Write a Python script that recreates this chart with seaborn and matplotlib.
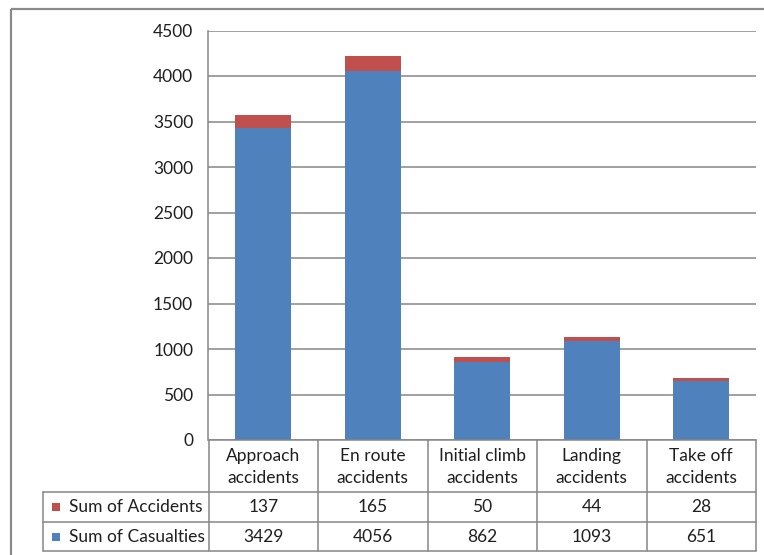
import matplotlib
matplotlib.use("Agg")
import matplotlib.pyplot as plt
import matplotlib.transforms as mtransforms
from matplotlib.lines import Line2D
from matplotlib.patches import Rectangle
import seaborn as sns
import pandas as pd

categories = ["Approach\naccidents", "En route\naccidents", "Initial climb\naccidents",
              "Landing\naccidents", "Take off\naccidents"]
accidents = [137, 165, 50, 44, 28]
casualties = [3429, 4056, 862, 1093, 651]
series_names = ["Sum of Accidents", "Sum of Casualties"]
y_ticks = [0, 500, 1000, 1500, 2000, 2500, 3000, 3500, 4000, 4500]

BLUE = "#4F81BD"
RED = "#C0504D"
GRID = "#868686"
TEXT = "#1f1f1f"

sns.set_theme(style="white")
plt.rcParams["font.family"] = ["Lato", "DejaVu Sans"]
FS = 12.5

W, H = 764, 555
fig = plt.figure(figsize=(W / 100, H / 100), dpi=100)

# pixel-space transform (origin top-left)
pix = mtransforms.Affine2D().scale(1 / W, -1 / H).translate(0, 1) + fig.transFigure

# outer chart frame
fig.add_artist(Rectangle((11, 8.5), 800, 600, transform=pix, fill=False,
                         edgecolor="#8a8a8a", linewidth=1.6))

ax_l, ax_r, ax_t, ax_b = 208.5, 756, 30.5, 440
ax = fig.add_axes([ax_l / W, 1 - ax_b / H, (ax_r - ax_l) / W, (ax_b - ax_t) / H])

df = pd.DataFrame({"category": categories, "accidents": accidents, "casualties": casualties})

sns.barplot(data=df, x="category", y="casualties", color=BLUE, width=0.51,
            saturation=1, linewidth=0, ax=ax)
sns.barplot(data=df, x="category", y="accidents", bottom=df["casualties"].to_numpy(),
            color=RED, width=0.51, saturation=1, linewidth=0, ax=ax)

ax.set_xlim(-0.5, len(categories) - 0.5)
ax.set_ylim(0, 4500)
ax.set_yticks(y_ticks)
ax.set_yticklabels([str(v) for v in y_ticks], fontsize=FS, color=TEXT)
ax.tick_params(axis="y", length=0, pad=11)
ax.yaxis.grid(True, color=GRID, linewidth=1.1)
ax.set_axisbelow(True)
ax.set_xlabel("")
ax.set_ylabel("")
for s in ["top", "right"]:
    ax.spines[s].set_visible(False)
ax.spines["left"].set_color(GRID)
ax.spines["bottom"].set_color(GRID)
ax.spines["left"].set_linewidth(1.1)
ax.spines["bottom"].set_linewidth(1.1)

ax.set_xticks(range(len(categories)))
ax.set_xticklabels(categories, fontsize=FS, color=TEXT, linespacing=1.42)
ax.tick_params(axis="x", length=0, pad=6)

# data table below the axis
blend = mtransforms.blended_transform_factory(ax.transData, pix)
tbl_left = 42.5
rows = [492, 521.5, 551]
line_kw = dict(color=GRID, linewidth=1.1)
for y in rows:
    fig.add_artist(Line2D([tbl_left, ax_r], [y, y], transform=pix, **line_kw))
fig.add_artist(Line2D([tbl_left, tbl_left], [rows[0], rows[-1]], transform=pix, **line_kw))
for xb in [i - 0.5 for i in range(len(categories) + 1)]:
    fig.add_artist(Line2D([xb, xb], [ax_b, rows[-1]], transform=blend, **line_kw))

row_vals = [accidents, casualties]
row_cols = [RED, BLUE]
for r, (name, vals, col) in enumerate(zip(series_names, row_vals, row_cols)):
    yc = (rows[r] + rows[r + 1]) / 2 + 0.5
    fig.add_artist(Rectangle((52, yc - 4), 8, 8, transform=pix, facecolor=col,
                             edgecolor="none"))
    fig.text(69 / W, 1 - yc / H, name, fontsize=FS, color=TEXT, ha="left", va="center")
    for i, v in enumerate(vals):
        fig.text(i, yc, str(v), transform=blend, fontsize=FS, color=TEXT,
                 ha="center", va="center")

fig.savefig("out.png", dpi=100, facecolor="white")
